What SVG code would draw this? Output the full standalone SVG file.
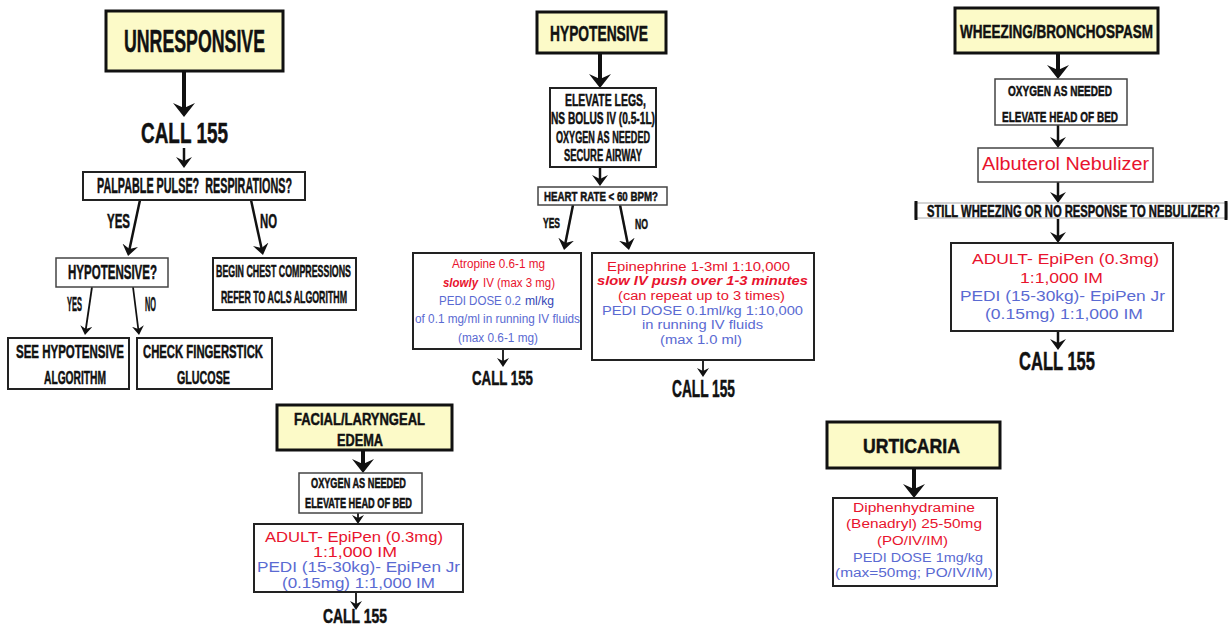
<svg xmlns="http://www.w3.org/2000/svg" width="1228" height="626" viewBox="0 0 1228 626">
<style>
.bg{fill:#ffffff}
.hd{fill:#fcfac8;stroke:#111;stroke-width:3}
.bx{fill:#ffffff;stroke:#222;stroke-width:2}
.bxt{fill:#ffffff;stroke:#444;stroke-width:1.5}
.cd{font-family:"Liberation Sans",Arial,sans-serif;font-weight:700;fill:#111;stroke:#111;stroke-width:0.5;text-anchor:middle;transform:scale(0.56,1)}
.tx{font-family:"Liberation Sans",Arial,sans-serif;text-anchor:middle}
.ts{font-family:"Liberation Sans",Arial,sans-serif;text-anchor:start}
.r{fill:#e8132d}
.b{fill:#5a6ad2}
.bd{fill:#3345b5}
.bi{font-weight:700;font-style:italic}
.c1{stroke:#111;stroke-width:4;fill:none;marker-end:url(#ah)}
.c2{stroke:#111;stroke-width:2.5;fill:none;marker-end:url(#am)}
.c3{stroke:#111;stroke-width:1.8;fill:none;marker-end:url(#as)}
</style>
<defs>
<marker id="ah" markerUnits="userSpaceOnUse" viewBox="0 0 14 22" markerWidth="14" markerHeight="22" refX="6" refY="11" orient="auto"><path d="M0,0 L14,11 L0,22 L5,11 z" fill="#111"/></marker>
<marker id="am" markerUnits="userSpaceOnUse" viewBox="0 0 11 16" markerWidth="11" markerHeight="16" refX="5" refY="8" orient="auto"><path d="M0,0 L11,8 L0,16 L4,8 z" fill="#111"/></marker>
<marker id="as" markerUnits="userSpaceOnUse" viewBox="0 0 9 12" markerWidth="9" markerHeight="12" refX="4" refY="6" orient="auto"><path d="M0,0 L9,6 L0,12 L3,6 z" fill="#111"/></marker>
</defs>
<rect class="bg" x="0" y="0" width="1228" height="626"/>

<g id="connectors">
<line class="c1" x1="184" y1="71" x2="184" y2="109"/>
<line class="c2" x1="184" y1="148" x2="184" y2="162"/>
<line class="c2" x1="140" y1="200" x2="129.3" y2="250.1"/>
<line class="c2" x1="251" y1="200" x2="261.7" y2="249.1"/>
<line class="c3" x1="92" y1="287" x2="85.7" y2="330"/>
<line class="c3" x1="133" y1="287" x2="138.4" y2="330"/>
<line class="c1" x1="600" y1="53" x2="600" y2="80"/>
<line class="c2" x1="600" y1="167" x2="600" y2="180"/>
<line class="c2" x1="573" y1="205" x2="565.2" y2="244.1"/>
<line class="c2" x1="620" y1="205" x2="627.8" y2="244.1"/>
<line class="c3" x1="503" y1="349" x2="503" y2="362"/>
<line class="c3" x1="703" y1="360" x2="703" y2="372"/>
<line class="c1" x1="1058" y1="53" x2="1058" y2="71"/>
<line class="c2" x1="1058" y1="125" x2="1058" y2="142"/>
<line class="c2" x1="1058" y1="182" x2="1058" y2="197"/>
<line class="c2" x1="1058" y1="219" x2="1058" y2="237"/>
<line class="c2" x1="1058" y1="331" x2="1058" y2="344"/>
<line class="c1" x1="363" y1="450" x2="363" y2="465"/>
<line class="c3" x1="358" y1="513" x2="358" y2="519"/>
<line class="c3" x1="356" y1="592" x2="356" y2="605"/>
<line class="c1" x1="914" y1="468" x2="914" y2="490"/>
</g>

<g id="unresponsive">
<rect class="hd" x="106" y="11" width="177" height="60"/>
<text class="cd" x="347.32" y="52" font-size="32" textLength="251.79" lengthAdjust="spacingAndGlyphs">UNRESPONSIVE</text>
</g>
<g id="call-unresp">
<text class="cd" x="329.46" y="143" font-size="29" textLength="155.36" lengthAdjust="spacingAndGlyphs">CALL 155</text>
</g>
<g id="palpable">
<rect class="bx" x="83" y="172" width="222" height="28"/>
<text class="cd" x="347.32" y="193" font-size="22" textLength="348.21" lengthAdjust="spacingAndGlyphs" xml:space="preserve">PALPABLE PULSE?  RESPIRATIONS?</text>
<text class="cd" x="211.61" y="228" font-size="20" textLength="41.07" lengthAdjust="spacingAndGlyphs">YES</text>
<text class="cd" x="479.46" y="228" font-size="20" textLength="30.36" lengthAdjust="spacingAndGlyphs">NO</text>
</g>
<g id="hypotensive-q">
<rect class="bxt" x="56" y="258" width="112" height="29"/>
<text class="cd" x="200.89" y="279" font-size="20" textLength="158.93" lengthAdjust="spacingAndGlyphs">HYPOTENSIVE?</text>
<text class="cd" x="133.04" y="311" font-size="20" textLength="26.79" lengthAdjust="spacingAndGlyphs" font-weight="400" stroke-width="0.3">YES</text>
<text class="cd" x="268.75" y="311" font-size="20" textLength="19.64" lengthAdjust="spacingAndGlyphs" font-weight="400" stroke-width="0.3">NO</text>
</g>
<g id="chest">
<rect class="bx" x="213" y="258" width="143" height="52"/>
<text class="cd" x="506.25" y="277" font-size="16" textLength="241.07" lengthAdjust="spacingAndGlyphs">BEGIN CHEST COMPRESSIONS</text>
<text class="cd" x="507.14" y="303" font-size="16" textLength="225" lengthAdjust="spacingAndGlyphs">REFER TO ACLS ALGORITHM</text>
</g>
<g id="see-hypo">
<rect class="bx" x="8" y="338" width="121" height="51"/>
<text class="cd" x="125" y="358" font-size="19" textLength="192.86" lengthAdjust="spacingAndGlyphs">SEE HYPOTENSIVE</text>
<text class="cd" x="133.93" y="384" font-size="19" textLength="110.71" lengthAdjust="spacingAndGlyphs">ALGORITHM</text>
</g>
<g id="fingerstick">
<rect class="bx" x="137" y="338" width="135" height="51"/>
<text class="cd" x="362.5" y="358" font-size="19" textLength="214.29" lengthAdjust="spacingAndGlyphs">CHECK FINGERSTICK</text>
<text class="cd" x="363.39" y="384" font-size="19" textLength="94.64" lengthAdjust="spacingAndGlyphs">GLUCOSE</text>
</g>

<g id="hypotensive">
<rect class="hd" x="537" y="12" width="129" height="41"/>
<text class="cd" x="1069.64" y="41" font-size="22" textLength="175" lengthAdjust="spacingAndGlyphs">HYPOTENSIVE</text>
</g>
<g id="elevate">
<rect class="bx" x="550" y="88" width="106" height="79"/>
<text class="cd" x="1081.25" y="106" font-size="17" textLength="144.64" lengthAdjust="spacingAndGlyphs">ELEVATE LEGS,</text>
<text class="cd" x="1076.79" y="124" font-size="17" textLength="185.71" lengthAdjust="spacingAndGlyphs">NS BOLUS IV (0.5-1L)</text>
<text class="cd" x="1076.79" y="143" font-size="17" textLength="167.86" lengthAdjust="spacingAndGlyphs">OXYGEN AS NEEDED</text>
<text class="cd" x="1076.79" y="161" font-size="17" textLength="139.29" lengthAdjust="spacingAndGlyphs">SECURE AIRWAY</text>
</g>
<g id="heart-rate">
<rect class="bxt" x="538" y="187" width="129" height="18"/>
<text class="cd" x="1073.21" y="201" font-size="13.5" textLength="203.57" lengthAdjust="spacingAndGlyphs">HEART RATE &lt; 60 BPM?</text>
<text class="cd" x="984.82" y="228" font-size="15" textLength="30.36" lengthAdjust="spacingAndGlyphs">YES</text>
<text class="cd" x="1145.54" y="229" font-size="15" textLength="23.21" lengthAdjust="spacingAndGlyphs">NO</text>
</g>
<g id="atropine">
<rect class="bx" x="413" y="253" width="168" height="96" stroke-width="2.5"/>
<text class="tx r" x="498.5" y="268" font-size="12" textLength="93" lengthAdjust="spacingAndGlyphs">Atropine 0.6-1 mg</text>
<text class="ts r bi" x="443" y="287" font-size="12" textLength="35" lengthAdjust="spacingAndGlyphs">slowly</text>
<text class="ts r" x="483" y="287" font-size="12" textLength="72" lengthAdjust="spacingAndGlyphs">IV (max 3 mg)</text>
<text class="ts b" x="439" y="305" font-size="12" textLength="82" lengthAdjust="spacingAndGlyphs">PEDI DOSE 0.2</text>
<text class="ts bd" x="525" y="305" font-size="12" textLength="29" lengthAdjust="spacingAndGlyphs">ml/kg</text>
<text class="tx b" x="497.5" y="323" font-size="12" textLength="165" lengthAdjust="spacingAndGlyphs">of 0.1 mg/ml in running IV fluids</text>
<text class="tx b" x="498" y="342" font-size="12" textLength="80" lengthAdjust="spacingAndGlyphs">(max 0.6-1 mg)</text>
<text class="cd" x="897.32" y="385" font-size="21" textLength="108.93" lengthAdjust="spacingAndGlyphs">CALL 155</text>
</g>
<g id="epinephrine">
<rect class="bx" x="592" y="253" width="222" height="107" stroke-width="3"/>
<text class="tx r" x="698.5" y="271" font-size="12.5" textLength="183" lengthAdjust="spacingAndGlyphs">Epinephrine 1-3ml 1:10,000</text>
<text class="tx r bi" x="702.5" y="285" font-size="12.5" textLength="211" lengthAdjust="spacingAndGlyphs">slow IV push over 1-3 minutes</text>
<text class="tx r" x="701.5" y="300" font-size="12.5" textLength="167" lengthAdjust="spacingAndGlyphs">(can repeat up to 3 times)</text>
<text class="tx b" x="702.5" y="315" font-size="12.5" textLength="201" lengthAdjust="spacingAndGlyphs">PEDI DOSE 0.1ml/kg 1:10,000</text>
<text class="tx b" x="702.5" y="329" font-size="12.5" textLength="121" lengthAdjust="spacingAndGlyphs">in running IV fluids</text>
<text class="tx b" x="701" y="344" font-size="12.5" textLength="82" lengthAdjust="spacingAndGlyphs">(max 1.0 ml)</text>
<text class="cd" x="1256.25" y="397" font-size="23" textLength="112.5" lengthAdjust="spacingAndGlyphs">CALL 155</text>
</g>

<g id="wheezing">
<rect class="hd" x="955" y="8" width="203" height="45"/>
<text class="cd" x="1886.61" y="38" font-size="19" textLength="344.64" lengthAdjust="spacingAndGlyphs">WHEEZING/BRONCHOSPASM</text>
</g>
<g id="oxygen-w">
<rect class="bxt" x="995" y="79" width="132" height="46"/>
<text class="cd" x="1892.86" y="96" font-size="15" textLength="185.71" lengthAdjust="spacingAndGlyphs">OXYGEN AS NEEDED</text>
<text class="cd" x="1892.86" y="122" font-size="15" textLength="207.14" lengthAdjust="spacingAndGlyphs">ELEVATE HEAD OF BED</text>
</g>
<g id="albuterol">
<rect class="bxt" x="978" y="148" width="175" height="34"/>
<text class="tx r" x="1065.5" y="170" font-size="18" textLength="167" lengthAdjust="spacingAndGlyphs">Albuterol Nebulizer</text>
</g>
<g id="still-wheezing">
<rect x="915" y="203" width="312" height="15" fill="#fff" stroke="#aaa" stroke-width="1"/>
<line x1="916" y1="201" x2="916" y2="220" stroke="#111" stroke-width="3"/>
<line x1="1226" y1="201" x2="1226" y2="220" stroke="#111" stroke-width="3"/>
<text class="cd" x="1916.96" y="217" font-size="16" textLength="523.21" lengthAdjust="spacingAndGlyphs">STILL WHEEZING OR NO RESPONSE TO NEBULIZER?</text>
</g>
<g id="epipen-w">
<rect class="bx" x="951" y="243" width="222" height="88" stroke-width="3"/>
<text class="tx r" x="1065.5" y="264" font-size="15.5" textLength="187" lengthAdjust="spacingAndGlyphs">ADULT- EpiPen (0.3mg)</text>
<text class="tx r" x="1061.5" y="283" font-size="15.5" textLength="83" lengthAdjust="spacingAndGlyphs">1:1,000 IM</text>
<text class="tx b" x="1062.5" y="301" font-size="15.5" textLength="205" lengthAdjust="spacingAndGlyphs">PEDI (15-30kg)- EpiPen Jr</text>
<text class="tx b" x="1064" y="319" font-size="15.5" textLength="158" lengthAdjust="spacingAndGlyphs">(0.15mg) 1:1,000 IM</text>
<text class="cd" x="1887.5" y="370" font-size="25" textLength="135.71" lengthAdjust="spacingAndGlyphs">CALL 155</text>
</g>

<g id="facial">
<rect class="hd" x="277" y="405" width="175" height="45" stroke-width="2.5"/>
<text class="cd" x="641.96" y="425" font-size="17" textLength="233.93" lengthAdjust="spacingAndGlyphs">FACIAL/LARYNGEAL</text>
<text class="cd" x="642.86" y="446" font-size="17" textLength="82.14" lengthAdjust="spacingAndGlyphs">EDEMA</text>
</g>
<g id="oxygen-f">
<rect class="bxt" x="299" y="473" width="123" height="40"/>
<text class="cd" x="640.18" y="488" font-size="14" textLength="169.64" lengthAdjust="spacingAndGlyphs">OXYGEN AS NEEDED</text>
<text class="cd" x="640.18" y="508" font-size="14" textLength="191.07" lengthAdjust="spacingAndGlyphs">ELEVATE HEAD OF BED</text>
</g>
<g id="epipen-f">
<rect class="bx" x="254" y="524" width="209" height="68" stroke-width="2.5"/>
<text class="tx r" x="354" y="542" font-size="14.5" textLength="178" lengthAdjust="spacingAndGlyphs">ADULT- EpiPen (0.3mg)</text>
<text class="tx r" x="355" y="557" font-size="14.5" textLength="84" lengthAdjust="spacingAndGlyphs">1:1,000 IM</text>
<text class="tx b" x="358.5" y="572" font-size="14.5" textLength="203" lengthAdjust="spacingAndGlyphs">PEDI (15-30kg)- EpiPen Jr</text>
<text class="tx b" x="358.5" y="588" font-size="14.5" textLength="153" lengthAdjust="spacingAndGlyphs">(0.15mg) 1:1,000 IM</text>
<text class="cd" x="633.93" y="623" font-size="20" textLength="114.29" lengthAdjust="spacingAndGlyphs">CALL 155</text>
</g>

<g id="urticaria">
<rect class="hd" x="827" y="422" width="173" height="46" stroke-width="2.5"/>
<text class="cd" x="1627.68" y="453" font-size="21" textLength="173.21" lengthAdjust="spacingAndGlyphs">URTICARIA</text>
</g>
<g id="diphenhydramine">
<rect class="bx" x="833" y="498" width="164" height="88"/>
<text class="tx r" x="914" y="512" font-size="12" textLength="122" lengthAdjust="spacingAndGlyphs">Diphenhydramine</text>
<text class="tx r" x="914" y="528" font-size="12" textLength="136" lengthAdjust="spacingAndGlyphs">(Benadryl) 25-50mg</text>
<text class="tx r" x="912.5" y="545" font-size="12" textLength="71" lengthAdjust="spacingAndGlyphs">(PO/IV/IM)</text>
<text class="tx b" x="918" y="562" font-size="12" textLength="130" lengthAdjust="spacingAndGlyphs">PEDI DOSE 1mg/kg</text>
<text class="tx b" x="914" y="577" font-size="12" textLength="158" lengthAdjust="spacingAndGlyphs">(max=50mg; PO/IV/IM)</text>
</g>
</svg>
